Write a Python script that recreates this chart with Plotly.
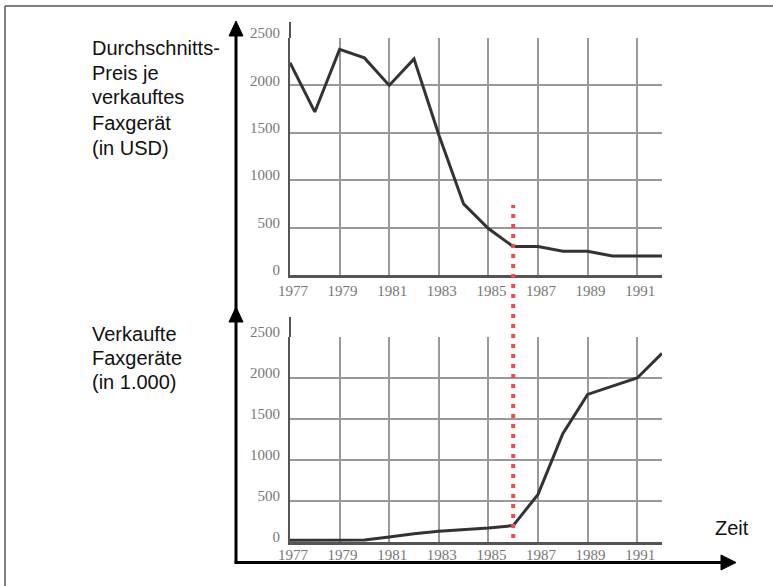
import plotly.graph_objects as go

W, H = 773, 586

YEARS = list(range(1977, 1993))
PRICE_USD = [2240, 1720, 2380, 2290, 2000, 2280, 1480, 750, 490, 300, 300, 250, 250, 200, 200, 200]
SALES_K = [20, 20, 20, 25, 60, 100, 130, 150, 170, 200, 580, 1320, 1800, 1900, 2000, 2300]
X_TICKS = [1977, 1979, 1981, 1983, 1985, 1987, 1989, 1991]
Y_TICKS = [0, 500, 1000, 1500, 2000, 2500]
MARK_YEAR = 1986

LABEL_TOP = ["Durchschnitts-", "Preis je", "verkauftes", "Faxgerät", "(in USD)"]
LABEL_BOTTOM = ["Verkaufte", "Faxgeräte", "(in 1.000)"]

SANS = "Liberation Sans, Arial, sans-serif"
SERIF = "Liberation Serif, Times New Roman, serif"
GRID = "#999"
AXIS = "#555"
LINE = "#333"


def px(x):
    return x / W


def py(y):
    return 1 - y / H


fig = go.Figure()
fig.add_trace(go.Scatter(x=YEARS, y=PRICE_USD, mode="lines", xaxis="x", yaxis="y",
                         line=dict(color=LINE, width=3), showlegend=False, hoverinfo="x+y"))
fig.add_trace(go.Scatter(x=YEARS, y=SALES_K, mode="lines", xaxis="x2", yaxis="y2",
                         line=dict(color=LINE, width=3), showlegend=False, hoverinfo="x+y"))

xax = dict(
    range=[YEARS[0], YEARS[-1]], domain=[px(290), px(662)],
    tickvals=X_TICKS + [YEARS[-1]], ticktext=[str(t) for t in X_TICKS] + [""],
    showgrid=True, gridcolor=GRID, gridwidth=1.5,
    showline=True, linecolor=AXIS, linewidth=2.5,
    ticks="", zeroline=False, automargin=False, ticklabelshift=3,
    tickfont=dict(family=SERIF, size=15, color="#777"),
)
yax = dict(
    range=[0, 2500], tickvals=Y_TICKS,
    showgrid=True, gridcolor=GRID, gridwidth=1.5,
    showline=True, linecolor=AXIS, linewidth=2,
    ticks="", zeroline=False, automargin=False,
    ticklabelstandoff=5, ticklabelshift=-5,
    tickfont=dict(family=SERIF, size=15, color="#777"),
)

shapes = []


def seg(x0, y0, x1, y1, color="#000", width=3):
    shapes.append(dict(type="line", xref="paper", yref="paper",
                       x0=px(x0), y0=py(y0), x1=px(x1), y1=py(y1),
                       line=dict(color=color, width=width)))


def tri(points):
    path = "M " + " L ".join(f"{px(a):.5f},{py(b):.5f}" for a, b in points) + " Z"
    shapes.append(dict(type="path", xref="paper", yref="paper", path=path,
                       fillcolor="#000", line=dict(color="#000", width=1)))


# outer frame
seg(5, 6, W, 6, color="#555", width=1.5)
seg(5, 6, 5, H, color="#555", width=1.5)

# black axis arrows
seg(236, 32, 236, 563.5)
tri([(236, 21), (229, 36), (243, 36)])
tri([(236, 307), (229, 322), (243, 322)])
seg(234.5, 562.5, 722, 562.5)
tri([(736, 562.5), (721, 555), (721, 570)])

# y-axis line stubs above the grid
seg(290, 38, 290, 22, color=AXIS, width=2)
seg(290, 337, 290, 317, color=AXIS, width=2)

# red dotted marker at 1986
shapes.append(dict(type="line", xref="x", yref="paper",
                   x0=MARK_YEAR, x1=MARK_YEAR, y0=py(538), y1=py(205),
                   line=dict(color="#f24a4a", width=4, dash="4px,6px")))

annotations = []
for i, t in enumerate(LABEL_TOP):
    annotations.append(dict(text=t, x=px(90), y=py(47.5 + 25 * i), xref="paper", yref="paper",
                            xanchor="left", yanchor="middle", showarrow=False,
                            font=dict(family=SANS, size=20, color="#111")))
for i, t in enumerate(LABEL_BOTTOM):
    annotations.append(dict(text=t, x=px(90), y=py(334 + 24 * i), xref="paper", yref="paper",
                            xanchor="left", yanchor="middle", showarrow=False,
                            font=dict(family=SANS, size=20, color="#111")))
annotations.append(dict(text="Zeit", x=px(713), y=py(528), xref="paper", yref="paper",
                        xanchor="left", yanchor="middle", showarrow=False,
                        font=dict(family=SANS, size=20, color="#111")))

fig.update_layout(
    width=W, height=H,
    margin=dict(l=0, r=0, t=0, b=0, autoexpand=False),
    paper_bgcolor="#fff", plot_bgcolor="#fff",
    xaxis=dict(xax, anchor="y"),
    yaxis=dict(yax, domain=[py(275), py(38)], anchor="x"),
    xaxis2=dict(xax, anchor="y2", ticklabelstandoff=-3),
    yaxis2=dict(yax, domain=[py(542), py(337)], anchor="x2"),
    shapes=shapes,
    annotations=annotations,
)

# page body has a default 8px margin; drop it so the figure sits at the window's corner
fig.write_html("out.html", config={"displayModeBar": False},
               post_script="document.body.style.margin='0';document.body.style.overflow='hidden';")
